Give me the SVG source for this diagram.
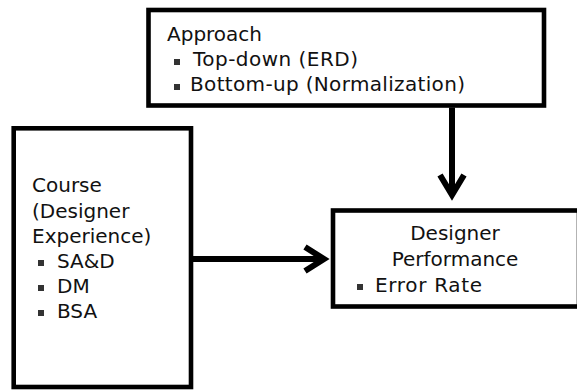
<svg xmlns="http://www.w3.org/2000/svg" width="577" height="390" viewBox="0 0 577 390">
<style>
.box{fill:#fff;stroke:#000;stroke-width:4.6}
.t{font-family:"DejaVu Sans","Liberation Sans",sans-serif;font-size:20px;fill:#111}
.b{fill:#333}
.c{fill:none;stroke:#000;stroke-width:6;stroke-linejoin:miter}
</style>
<rect width="577" height="390" fill="#fff"/>
<g id="approach">
<rect class="box" x="148.5" y="10" width="395.5" height="95.5"/>
<text class="t" x="167" y="41">Approach</text>
<rect class="b" x="174" y="59" width="6" height="6"/>
<text class="t" x="193" y="66" textLength="165">Top-down (ERD)</text>
<rect class="b" x="174" y="84" width="6" height="6"/>
<text class="t" x="190" y="91" textLength="275">Bottom-up (Normalization)</text>
</g>
<g id="course">
<rect class="box" x="13.7" y="128.3" width="177.3" height="258.7"/>
<text class="t" x="32" y="192">Course</text>
<text class="t" x="32" y="218">(Designer</text>
<text class="t" x="32" y="243">Experience)</text>
<rect class="b" x="38" y="260" width="6" height="6"/>
<text class="t" x="57" y="268">SA&amp;D</text>
<rect class="b" x="38" y="285" width="6" height="6"/>
<text class="t" x="57" y="293">DM</text>
<rect class="b" x="38" y="310" width="6" height="6"/>
<text class="t" x="57" y="318">BSA</text>
</g>
<g id="performance">
<rect class="box" x="333" y="210.5" width="246" height="96"/>
<text class="t" x="455" y="240" text-anchor="middle">Designer</text>
<text class="t" x="455" y="266" text-anchor="middle">Performance</text>
<rect class="b" x="357" y="284" width="6" height="6"/>
<text class="t" x="375" y="292" textLength="107">Error Rate</text>
</g>
<g id="connectors">
<path class="c" d="M452 107.5V195M440 175L452 195L464 175"/>
<path class="c" d="M193 259H324M305 247L324 259L305 271"/>
</g>
</svg>
